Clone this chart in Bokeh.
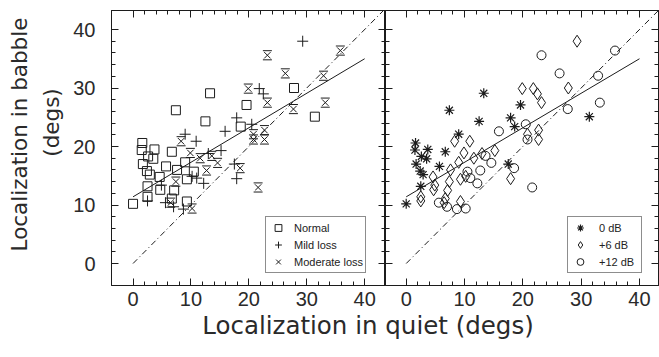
from bokeh.plotting import figure
from bokeh.models import (Range1d, LinearAxis, FixedTicker, Legend, LegendItem, Div,
                          ColumnDataSource, Label)
from bokeh.layouts import row, column
from bokeh.transform import dodge
from bokeh.embed import file_html
from bokeh.resources import INLINE

# ---------------- data ----------------
quiet = [
    0.0, 1.6, 1.5, 3.7, 6.7, 3.5, 1.7, 5.7, 2.4, 2.9, 9.0, 7.6, 10.5, 9.3, 4.6, 4.7, 2.5, 2.5,
    6.7, 9.3, 7.1, 7.4, 13.3, 12.5, 19.6, 18.6, 27.8, 31.4, 2.6,
    29.3, 21.8, 22.5, 17.9, 20.5, 15.9, 9.0, 10.9, 15.2, 17.5, 17.9, 11.0, 4.9, 12.2, 2.5,
    5.6, 7.0, 8.7, 13.0, 10.2,
    23.2, 35.8, 26.3, 32.9, 19.9, 23.2, 27.7, 33.2, 20.8, 22.7, 20.8, 22.7, 8.3, 9.9, 11.6,
    13.6, 14.6, 12.7, 7.4, 6.5, 10.2, 18.5, 21.6,
]
babble = [
    10.2, 20.6, 19.4, 19.5, 19.1, 17.9, 17.0, 16.6, 15.8, 15.2, 17.3, 16.0, 15.7, 14.4, 14.8, 12.6, 13.2, 11.4,
    11.1, 10.6, 12.5, 26.2, 29.1, 24.3, 27.1, 23.4, 30.0, 25.1, 18.3,
    38.0, 29.9, 29.0, 24.9, 23.8, 22.6, 22.1, 20.9, 19.3, 17.0, 14.5, 14.6, 13.4, 13.7, 10.7,
    10.4, 9.7, 9.3, 18.8, 14.9,
    35.6, 36.4, 32.5, 32.1, 29.9, 27.5, 26.4, 27.5, 22.1, 22.8, 21.2, 21.2, 20.9, 18.9, 18.0,
    18.4, 17.2, 15.9, 14.0, 10.4, 9.4, 16.3, 13.0,
]
hearing = ["Normal"] * 29 + ["Mild loss"] * 20 + ["Moderate loss"] * 23
snr = [
    "0 dB", "0 dB", "0 dB", "0 dB", "0 dB", "0 dB", "0 dB", "0 dB", "0 dB", "0 dB",
    "+6 dB", "+6 dB", "+12 dB", "+6 dB", "+6 dB", "+6 dB", "0 dB", "+6 dB",
    "+6 dB", "+6 dB", "+6 dB", "0 dB", "0 dB", "0 dB", "0 dB", "0 dB", "+6 dB", "0 dB", "0 dB",
    "+6 dB", "+6 dB", "+6 dB", "0 dB", "+12 dB", "+12 dB", "0 dB", "+6 dB", "+6 dB", "0 dB",
    "+6 dB", "+12 dB", "+6 dB", "+12 dB", "+6 dB", "+12 dB", "+12 dB", "+12 dB", "+6 dB", "+6 dB",
    "+12 dB", "+12 dB", "+12 dB", "+12 dB", "+6 dB", "+6 dB", "+12 dB", "+12 dB", "+6 dB", "+6 dB",
    "+12 dB", "+6 dB", "+6 dB", "+6 dB", "+6 dB", "+12 dB", "+12 dB", "+12 dB", "+6 dB", "+6 dB",
    "+12 dB", "+12 dB", "+12 dB",
]
hearing_groups = ["Normal", "Mild loss", "Moderate loss"]
snr_groups = ["0 dB", "+6 dB", "+12 dB"]

fit_x = [0, 40]
fit_y = [11.4, 35.0]
ident_x = [0, 46]
ident_y = [0, 46]

major_ticks = [0, 10, 20, 30, 40]
minor_ticks = list(range(0, 41, 2))

x_label = "Localization in quiet (degs)"
y_label_1 = "Localization in babble"
y_label_2 = "(degs)"

# ---------------- styling ----------------
INK = "#1c1c1c"
TEXT = "#2a2a2a"
TICK_FONT = "Liberation Sans"
LABEL_FONT = "DejaVu Sans"
LEG_FONT = "Liberation Sans"
FIG_H = 314
B_TOP = 10
B_BOTTOM = 29


def subset(labels, key):
    idx = [i for i, v in enumerate(labels) if v == key]
    return ColumnDataSource(dict(x=[quiet[i] for i in idx], y=[babble[i] for i in idx]))


def labelled_axis(standoff):
    ax = LinearAxis(ticker=FixedTicker(ticks=major_ticks, minor_ticks=minor_ticks))
    ax.axis_line_color = INK
    ax.major_tick_line_color = INK
    ax.minor_tick_line_color = INK
    ax.major_tick_in = 7
    ax.major_tick_out = 0
    ax.minor_tick_in = 4
    ax.minor_tick_out = 0
    ax.major_label_text_font = TICK_FONT
    ax.major_label_text_font_size = "20px"
    ax.major_label_text_color = TEXT
    ax.major_label_standoff = standoff
    return ax


def tick_only_axes(p, side):
    # ticks without any labels: minor ticks every 2, longer ticks at the tens
    for ticks, length in ((minor_ticks, 4), (major_ticks, 7)):
        ax = LinearAxis(ticker=FixedTicker(ticks=[], minor_ticks=ticks))
        ax.axis_line_color = INK
        ax.minor_tick_line_color = INK
        ax.major_tick_in = 0
        ax.major_tick_out = 0
        ax.minor_tick_in = length
        ax.minor_tick_out = 0
        ax.major_label_standoff = 0
        p.add_layout(ax, side)


def make_fig(width, xr, border_left, border_right, left_labels):
    p = figure(width=width, height=FIG_H, x_range=Range1d(*xr), y_range=Range1d(-3.76, 43.25),
               output_backend="svg", toolbar_location=None,
               x_axis_location=None, y_axis_location=None,
               min_border_left=border_left, min_border_right=border_right,
               min_border_top=B_TOP, min_border_bottom=B_BOTTOM)
    p.grid.visible = False
    p.outline_line_color = INK
    p.background_fill_color = "white"
    p.border_fill_color = "white"
    p.add_layout(labelled_axis(6), "below")
    if left_labels:
        p.add_layout(labelled_axis(16), "left")
    else:
        tick_only_axes(p, "left")
    tick_only_axes(p, "above")
    tick_only_axes(p, "right")
    p.line(fit_x, fit_y, line_color=INK, line_width=1)
    p.line(ident_x, ident_y, line_color=INK, line_width=1, line_dash="6 3 1 3")
    return p


# strip on the left that carries the two-line y-axis title
p0 = figure(width=70, height=FIG_H, x_range=Range1d(0, 1), y_range=Range1d(0, 1),
            output_backend="svg", toolbar_location=None,
            x_axis_location=None, y_axis_location=None,
            min_border_left=0, min_border_right=0,
            min_border_top=B_TOP, min_border_bottom=B_BOTTOM)
p0.grid.visible = False
p0.outline_line_color = None
p0.background_fill_color = "white"
p0.border_fill_color = "white"
frame_bottom = FIG_H - B_BOTTOM
lab_style = dict(x_units="screen", y_units="screen", angle=90, angle_units="deg",
                 text_align="center", text_baseline="alphabetic", text_font=LABEL_FONT,
                 text_color=TEXT)
p0.add_layout(Label(x=19, y=frame_bottom - 134, text=y_label_1, text_font_size="21.5px", **lab_style))
p0.add_layout(Label(x=51, y=frame_bottom - 122, text=y_label_2, text_font_size="21.5px", **lab_style))

p1 = make_fig(315, (-3.72, 43.6), 39, 0, True)

src_n = subset(hearing, "Normal")
src_m = subset(hearing, "Mild loss")
src_h = subset(hearing, "Moderate loss")
mk = dict(fill_color=None, line_color=INK, line_width=1)
r_n = p1.scatter("x", "y", source=src_n, marker="square", size=9, **mk)
r_m = p1.scatter("x", "y", source=src_m, marker="cross", size=11, **mk)
r_h = p1.scatter("x", "y", source=src_h, marker="x", size=9, **mk)
r_h1 = p1.scatter(x="x", y=dodge("y", 0.78), source=src_h, marker="dash", size=9, **mk)
r_h2 = p1.scatter(x="x", y=dodge("y", -0.78), source=src_h, marker="dash", size=9, **mk)

leg_style = dict(border_line_color=INK, border_line_width=1, background_fill_color="white",
                 background_fill_alpha=1, label_text_font=LEG_FONT, label_text_font_size="11px",
                 label_text_color="#222222", glyph_width=20, glyph_height=17, label_height=17,
                 spacing=0, padding=2, margin=0)
leg1 = Legend(items=[LegendItem(label=hearing_groups[0], renderers=[r_n]),
                     LegendItem(label=hearing_groups[1], renderers=[r_m]),
                     LegendItem(label=hearing_groups[2], renderers=[r_h])],
              location=(154, 12), label_standoff=6, **leg_style)
p1.add_layout(leg1)

p2 = make_fig(274, (-3.55, 43.26), 0, 1, False)
src_0 = subset(snr, "0 dB")
src_6 = subset(snr, "+6 dB")
src_12 = subset(snr, "+12 dB")
r_0 = p2.scatter("x", "y", source=src_0, marker="asterisk", size=10, fill_color=None,
                 line_color=INK, line_width=1.2)
r_6 = p2.scatter("x", "y", source=src_6, marker="diamond", size=12, **mk)
r_12 = p2.scatter("x", "y", source=src_12, marker="circle", size=9, **mk)
leg2 = Legend(items=[LegendItem(label=snr_groups[0], renderers=[r_0]),
                     LegendItem(label=snr_groups[1], renderers=[r_6]),
                     LegendItem(label=snr_groups[2], renderers=[r_12])],
              location=(182, 12), label_standoff=9, label_width=40, **leg_style)
p2.add_layout(leg2)

xlab = Div(text=x_label, width=582, height=43, margin=(0, 0, 0, 77),
           styles={"font-family": LABEL_FONT, "font-size": "24.5px", "color": TEXT,
                   "text-align": "center", "line-height": "1"})

layout = column(row(p0, p1, p2), xlab)
open("out.html", "w").write(file_html(layout, INLINE))
